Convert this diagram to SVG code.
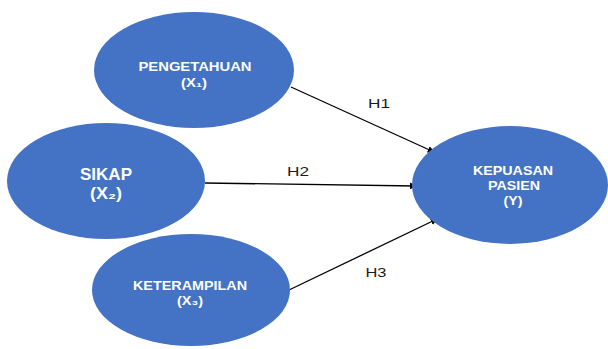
<svg xmlns="http://www.w3.org/2000/svg" width="608" height="349" viewBox="0 0 608 349">
<defs>
<style>
.node{fill:#4472C4;}
.nt{fill:#ffffff;font-family:"Liberation Sans",Arial,sans-serif;font-weight:bold;text-anchor:middle;}
.s{font-size:13px;}
.b{font-size:16.5px;}
.lbl{fill:#1a1a1a;font-family:"Liberation Sans",Arial,sans-serif;font-size:12.5px;text-anchor:middle;}
.conn{stroke:#000;stroke-width:1.3;fill:none;marker-end:url(#ah);}
</style>
<marker id="ah" viewBox="0 0 10 10" refX="9" refY="5" markerWidth="7" markerHeight="7" markerUnits="userSpaceOnUse" orient="auto">
<path d="M0,0 L10,5 L0,10 z" fill="#000"/>
</marker>
</defs>
<rect width="608" height="349" fill="#fff"/>
<g id="connectors">
<line class="conn" x1="291" y1="87" x2="434" y2="152"/>
<line class="conn" x1="205" y1="183" x2="416" y2="186"/>
<line class="conn" x1="289" y1="290" x2="437" y2="219"/>
<text class="lbl" x="379" y="108" textLength="22" lengthAdjust="spacingAndGlyphs">H1</text>
<text class="lbl" x="298" y="176" textLength="22" lengthAdjust="spacingAndGlyphs">H2</text>
<text class="lbl" x="376" y="277" textLength="21" lengthAdjust="spacingAndGlyphs">H3</text>
</g>
<g id="pengetahuan">
<ellipse class="node" cx="194" cy="70" rx="100" ry="58"/>
<text class="nt s" x="195" y="71" textLength="113" lengthAdjust="spacingAndGlyphs">PENGETAHUAN</text>
<text class="nt s" x="194" y="87" textLength="26" lengthAdjust="spacingAndGlyphs">(X₁)</text>
</g>
<g id="sikap">
<ellipse class="node" cx="106" cy="181" rx="99" ry="58"/>
<text class="nt b" x="106" y="180" textLength="52" lengthAdjust="spacingAndGlyphs">SIKAP</text>
<text class="nt b" x="106" y="199" textLength="32" lengthAdjust="spacingAndGlyphs">(X₂)</text>
</g>
<g id="keterampilan">
<ellipse class="node" cx="191" cy="290" rx="99" ry="56"/>
<text class="nt s" x="190" y="290" textLength="114" lengthAdjust="spacingAndGlyphs">KETERAMPILAN</text>
<text class="nt s" x="190" y="305" textLength="26" lengthAdjust="spacingAndGlyphs">(X₃)</text>
</g>
<g id="kepuasan">
<ellipse class="node" cx="510" cy="185" rx="98" ry="59"/>
<text class="nt s" x="513" y="175" textLength="80" lengthAdjust="spacingAndGlyphs">KEPUASAN</text>
<text class="nt s" x="514" y="190" textLength="52" lengthAdjust="spacingAndGlyphs">PASIEN</text>
<text class="nt s" x="513" y="205" textLength="19" lengthAdjust="spacingAndGlyphs">(Y)</text>
</g>
</svg>
